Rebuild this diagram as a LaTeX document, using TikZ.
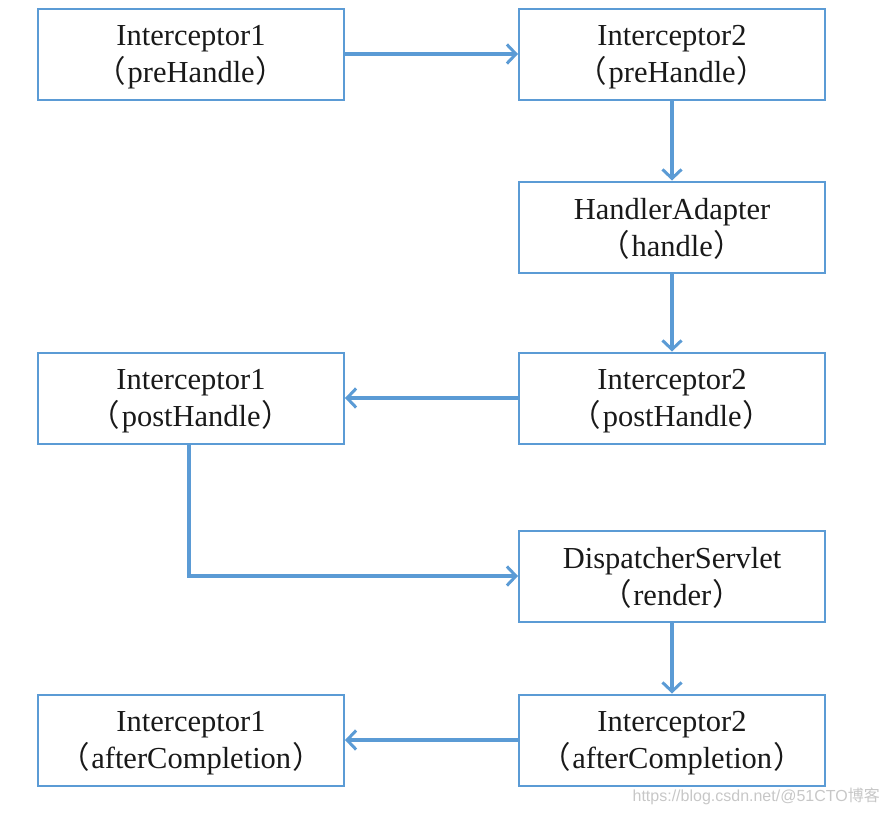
\documentclass[tikz,border=0pt]{standalone}
\usepackage{fontspec}
\setmainfont{Liberation Serif}
\newfontfamily\cjk{Noto Sans CJK SC}
\newfontfamily\wmfont{Liberation Sans}
\usetikzlibrary{arrows.meta}
\definecolor{boxblue}{HTML}{5B9BD5}
\newcommand{\lp}{{\cjk （}\hspace{1.5pt}}
\newcommand{\rp}{\hspace{1pt}{\cjk ）}}
\begin{document}
\begin{tikzpicture}[x=1pt,y=-1pt,
  box/.style={draw=boxblue, line width=2pt, minimum width=306pt, minimum height=91pt,
    inner sep=0pt, align=center, text depth=-4pt, font=\fontsize{30.5}{37}\selectfont, text=black!90},
  conn/.style={draw=boxblue, line width=3.2pt,
    -{Straight Barb[length=9pt,width=19pt,line width=3pt]}}]
\useasboundingbox (0,0) rectangle (889,812);
\node[box] (a) at (191,54) {Interceptor1\\\lp preHandle\rp};
\node[box] (b) at (672,54) {Interceptor2\\\lp preHandle\rp};
\node[box] (c) at (672,227) {HandlerAdapter\\\lp handle\rp};
\node[box] (d) at (672,398) {Interceptor2\\\lp postHandle\rp};
\node[box] (e) at (191,398) {Interceptor1\\\lp postHandle\rp};
\node[box] (f) at (672,576) {DispatcherServlet\\\lp render\rp};
\node[box] (g) at (672,740) {Interceptor2\\\lp afterCompletion\rp};
\node[box] (h) at (191,740) {Interceptor1\\\lp afterCompletion\rp};
\draw[conn] (a.east) -- (b.west);
\draw[conn] (b.south) -- (c.north);
\draw[conn] (c.south) -- (d.north);
\draw[conn] (d.west) -- (e.west -| e.east);
\draw[conn] (e.south -| 189,0) |- (f.west);
\draw[conn] (f.south) -- (g.north);
\draw[conn] (g.west) -- (h.east);
\node[anchor=east, inner sep=0pt, text=black!22, font=\fontsize{16}{18}\selectfont] (wm) at (880,796) {\wmfont https://blog.csdn.net/@51CTO{\cjk 博客}};
\end{tikzpicture}
\end{document}
